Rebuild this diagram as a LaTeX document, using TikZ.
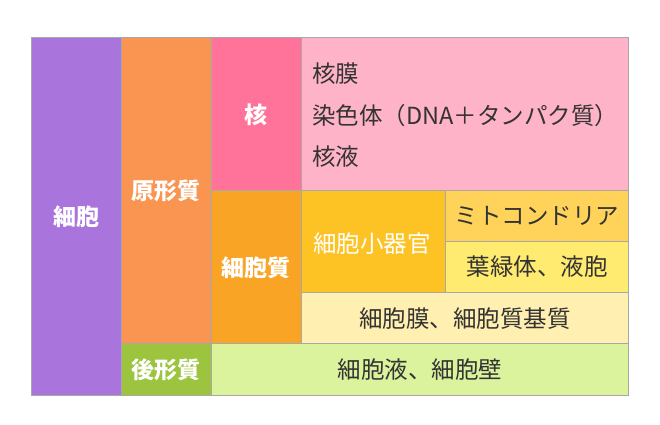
\documentclass[tikz,border=0pt]{standalone}
\usepackage{fontspec}
\setmainfont{Noto Sans CJK JP}
\definecolor{cpurple}{HTML}{A974DC}
\definecolor{corange}{HTML}{F99551}
\definecolor{cpink}{HTML}{FF7299}
\definecolor{clpink}{HTML}{FFB3C8}
\definecolor{corange2}{HTML}{F9A424}
\definecolor{cyellow}{HTML}{FDC324}
\definecolor{cmito}{HTML}{FFD35A}
\definecolor{cchloro}{HTML}{FFEB70}
\definecolor{cmemb}{HTML}{FFEFB0}
\definecolor{cgreen}{HTML}{9CC43F}
\definecolor{clgreen}{HTML}{DCF39D}
\definecolor{cborder}{HTML}{A8A8A8}
\definecolor{ctext}{HTML}{333333}
\tikzset{
  cell/.style={draw=cborder, line width=1pt},
  wlabel/.style={text=white, font=\fontsize{23}{26}\selectfont\bfseries, inner sep=0pt},
  wlight/.style={text=white, font=\fontsize{23.5}{26}\selectfont, inner sep=0pt},
  dlabel/.style={text=ctext, font=\fontsize{23.5}{26}\selectfont, inner sep=0pt},
}
\begin{document}
\begin{tikzpicture}[x=1pt,y=-1pt]
\useasboundingbox (0,0) rectangle (660,424);
% cells
\filldraw[cell, fill=cpurple] (31,37) rectangle (121,395);
\filldraw[cell, fill=corange] (121,37) rectangle (211,343);
\filldraw[cell, fill=cgreen] (121,343) rectangle (211,395);
\filldraw[cell, fill=cpink] (211,37) rectangle (301,190);
\filldraw[cell, fill=clpink] (301,37) rectangle (628,190);
\filldraw[cell, fill=corange2] (211,190) rectangle (301,343);
\filldraw[cell, fill=cyellow] (301,190) rectangle (445,292);
\filldraw[cell, fill=cmito] (445,190) rectangle (628,241);
\filldraw[cell, fill=cchloro] (445,241) rectangle (628,292);
\filldraw[cell, fill=cmemb] (301,292) rectangle (628,343);
\filldraw[cell, fill=clgreen] (211,343) rectangle (628,395);
% labels
\node[wlabel] (saibo) at (76,217) {細胞};
\node[wlabel] (genkei) at (166,191) {原形質};
\node[wlabel] (kokei) at (166,370) {後形質};
\node[wlabel] (kaku) at (256,115) {核};
\node[wlabel] (saiboshitsu) at (256,268) {細胞質};
\node[wlight] (shoki) at (372,244) {細胞小器官};
\node[dlabel, anchor=west] (kakumaku) at (312,74) {核膜};
\node[dlabel, anchor=west] (senshoku) at (312,116) {染色体（DNA＋タンパク質）};
\node[dlabel, anchor=west] (kakueki) at (312,157) {核液};
\node[dlabel] (mito) at (537,216) {ミトコンドリア};
\node[dlabel] (yoryoku) at (537,267) {葉緑体、液胞};
\node[dlabel] (maku) at (465,319) {細胞膜、細胞質基質};
\node[dlabel] (eki) at (420,370) {細胞液、細胞壁};
\end{tikzpicture}
\end{document}
